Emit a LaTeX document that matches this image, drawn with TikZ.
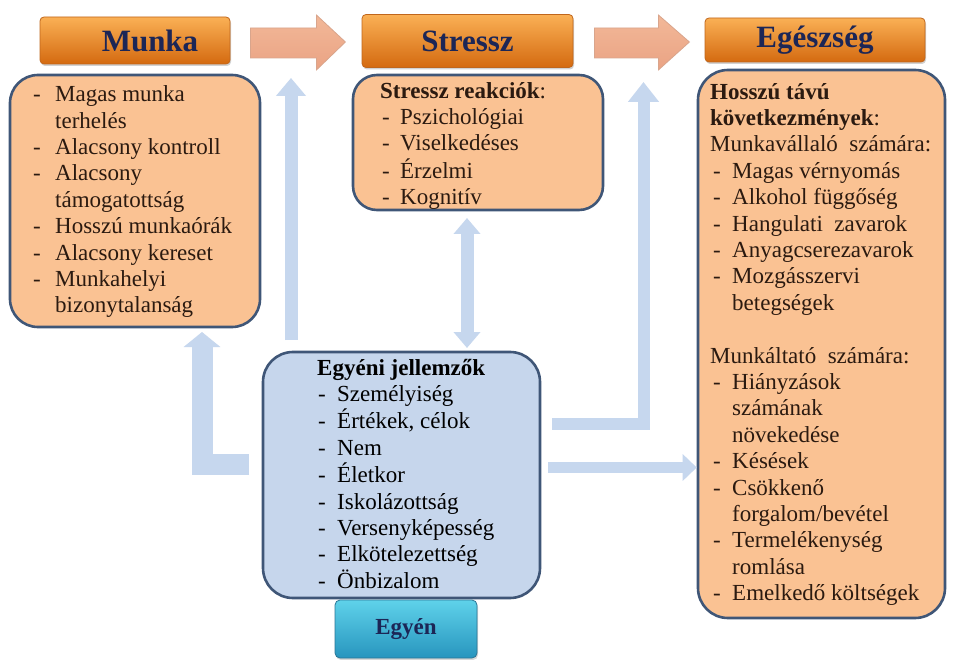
\documentclass[tikz,border=0pt]{standalone}
\usepackage{fontspec}
\setmainfont{Liberation Serif}
\usepackage{array}
\usetikzlibrary{arrows.meta,shadows,calc}
\definecolor{hdrtop}{HTML}{FAB055}
\definecolor{hdrmid}{HTML}{F28A1E}
\definecolor{hdrbot}{HTML}{D46A10}
\definecolor{hdrline}{HTML}{C0661C}
\definecolor{hdrtext}{HTML}{1C2656}
\definecolor{peach}{HTML}{FAC293}
\definecolor{boxline}{HTML}{3F5677}
\definecolor{lightblue}{HTML}{C6D6EC}
\definecolor{arrblue}{HTML}{C6D7EE}
\definecolor{txtcol}{HTML}{2B1A10}
\definecolor{patop}{HTML}{F2B898}
\definecolor{pamid}{HTML}{FBDCCB}
\definecolor{pabot}{HTML}{EAA384}
\definecolor{paline}{HTML}{D9A58C}
\definecolor{tealtop}{HTML}{5FD2EA}
\definecolor{tealbot}{HTML}{2795BE}
\definecolor{tealline}{HTML}{2B7595}
\begin{document}
\begin{tikzpicture}[x=1pt,y=-1pt,
  header/.style={rounded corners=4pt, top color=hdrtop, middle color=hdrmid, bottom color=hdrbot,
    draw=hdrline, line width=0.8pt, text=hdrtext, font=\fontsize{31}{34}\selectfont\bfseries,
    drop shadow={opacity=0.35, shadow xshift=1pt, shadow yshift=-2pt}, inner sep=0pt},
  listbox/.style={rounded corners=28pt, fill=peach, draw=boxline, line width=2.6pt, inner sep=0pt},
  bluebox/.style={listbox, fill=lightblue},
  txt/.style={inner sep=0pt, anchor=north west, text=txtcol, font=\fontsize{23}{26.4}\selectfont},
  peacharrow/.style={top color=patop, middle color=pamid, bottom color=pabot, draw=paline, line width=0.8pt},
  flow/.style={draw=arrblue, line width=#1, line join=miter},
  egyen/.style={rounded corners=5pt, top color=tealtop, bottom color=tealbot, draw=tealline, line width=0.8pt,
    font=\fontsize{23}{26}\selectfont\bfseries, text=hdrtext, inner sep=0pt,
    drop shadow={opacity=0.3, shadow xshift=1pt, shadow yshift=-2pt}}
]
\useasboundingbox (0,0) rectangle (953,660);
\fill[white] (0,0) rectangle (953,660);

% headers
\node[header, minimum width=190pt, minimum height=47pt] (munka) at (135,40.5) {\hspace*{30pt}Munka};
\node[header, minimum width=211pt, minimum height=53pt] (stressz) at (467.5,41) {Stressz};
\node[header, minimum width=220pt, minimum height=44pt] (egeszseg) at (815,40) {Egészség};

% peach arrows between headers
\path[peacharrow] ($(munka.east)+(20,-12.5)$) coordinate (p1a) -- ++(66,0) -- ++(0,-13) -- ++(29,27) -- ++(-29,28) -- ++(0,-12) -- ++(-66,0) -- cycle;
\path[peacharrow] ($(stressz.east)+(21,-13)$) coordinate (p2a) -- ++(64,0) -- ++(0,-13) -- ++(31,27) -- ++(-31,28) -- ++(0,-12) -- ++(-64,0) -- cycle;

% list boxes
\node[listbox, minimum width=250pt, minimum height=252pt] (munkabox) at (135,201) {};
\node[listbox, rounded corners=24pt, minimum width=250pt, minimum height=135pt] (stresszbox) at (478,142.5) {};
\node[listbox, rounded corners=30pt, minimum width=247pt, minimum height=548pt] (egbox) at (821.5,344) {};
\node[bluebox, rounded corners=30pt, minimum width=277pt, minimum height=246pt] (egyenibox) at (401.5,475) {};
\node[egyen, minimum width=142pt, minimum height=58pt] (egyen) at (406,629) {Egyén};

% texts
\node[txt] (munkatxt) at (33,83) {\begin{tabular}{@{}p{22pt}@{}l@{}}
- & Magas munka\\
  & terhelés\\
- & Alacsony kontroll\\
- & Alacsony\\
  & támogatottság\\
- & Hosszú munkaórák\\
- & Alacsony kereset\\
- & Munkahelyi\\
  & bizonytalanság
\end{tabular}};

\node[txt, font=\fontsize{23}{26}\selectfont] (stressztxt) at (380,80.5) {\begin{tabular}{@{\hspace{2pt}}p{18pt}@{}l@{}}
\multicolumn{2}{@{}l@{}}{\textbf{Stressz reakciók}:}\\
- & Pszichológiai\\
- & Viselkedéses\\
- & Érzelmi\\
- & Kognitív
\end{tabular}};

\node[txt] (egtxt) at (710,80.5) {\begin{tabular}{@{\hspace{3pt}}p{19pt}@{}l@{}}
\multicolumn{2}{@{}l@{}}{\textbf{Hosszú távú}}\\
\multicolumn{2}{@{}l@{}}{\textbf{következmények}:}\\
\multicolumn{2}{@{}l@{}}{Munkavállaló\ \ számára:}\\
- & Magas vérnyomás\\
- & Alkohol\ függőség\\
- & Hangulati\ \ zavarok\\
- & Anyagcserezavarok\\
- & Mozgásszervi\\
  & betegségek\\
  & \\
\multicolumn{2}{@{}l@{}}{Munkáltató\ \ számára:}\\
- & Hiányzások\\
  & számának\\
  & növekedése\\
- & Késések\\
- & Csökkenő\\
  & forgalom/bevétel\\
- & Termelékenység\\
  & romlása\\
- & Emelkedő költségek
\end{tabular}};

\node[txt, text=black, font=\fontsize{23}{26.25}\selectfont] (egyenitxt) at (317,356.5) {\begin{tabular}{@{\hspace{1pt}}p{19pt}@{}l@{}}
\multicolumn{2}{@{}l@{}}{\textbf{Egyéni jellemzők}}\\
- & Személyiség\\
- & Értékek, célok\\
- & Nem\\
- & Életkor\\
- & Iskolázottság\\
- & Versenyképesség\\
- & Elkötelezettség\\
- & Önbizalom
\end{tabular}};

% light blue flow arrows
\coordinate (a1s) at (291,340);
\coordinate (a1e) at (291,78);
\draw[flow=13pt, -{Triangle[width=29pt,length=18pt]}] (a1s) -- (a1e);

\coordinate (lls) at (249,464.5);
\coordinate (llc) at (202,464.5);
\coordinate (lle) at (202,332);
\draw[flow=21pt, -{Triangle[width=36pt,length=15pt]}] (lls) -- (llc) -- (lle);

\coordinate (dbs) at (467,218);
\coordinate (dbe) at (467,348);
\draw[flow=13pt, {Triangle[width=26pt,length=16pt]}-{Triangle[width=26pt,length=16pt]}] (dbs) -- (dbe);

\coordinate (rls) at (552,424);
\coordinate (rlc) at (643.5,424);
\coordinate (rle) at (643.5,82);
\draw[flow=12pt, -{Triangle[width=30pt,length=20pt]}] (rls) -- (rlc) -- (rle);

\coordinate (rss) at (548,467.5);
\draw[flow=11pt, -{Triangle[width=26pt,length=14pt]}] (rss) -- (egbox.west |- rss);
\end{tikzpicture}
\end{document}
